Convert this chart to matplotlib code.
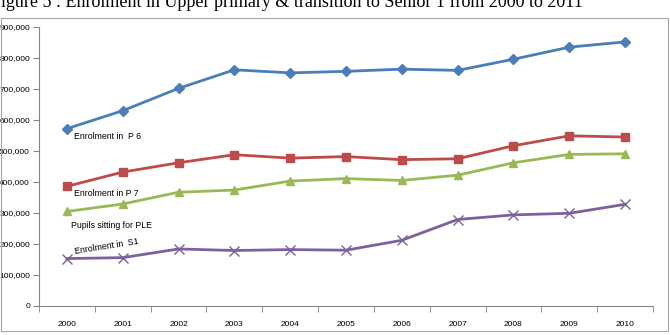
import matplotlib.pyplot as plt
import matplotlib.ticker as mticker
from matplotlib.patches import Rectangle

# data
years = ['2000', '2001', '2002', '2003', '2004', '2005', '2006', '2007', '2008', '2009', '2010']
p6 = [572000, 630000, 702000, 762000, 752000, 757000, 764000, 760000, 796000, 835000, 852000]
p7 = [386000, 432000, 462000, 488000, 477000, 482000, 472000, 475000, 517000, 549000, 545000]
ple = [305000, 329000, 367000, 374000, 403000, 411000, 405000, 422000, 462000, 489000, 491000]
s1 = [153000, 156000, 184000, 179000, 182000, 180000, 212000, 279000, 294000, 299000, 328000]

plt.rcParams['font.family'] = ['Liberation Sans', 'DejaVu Sans']

fig = plt.figure(figsize=(6.7, 3.35), dpi=100)
fig.patch.set_facecolor('white')

# outer chart frame
fig.patches.append(Rectangle((0.5 / 670, 4.5 / 335), 667.5 / 670, 313 / 335, transform=fig.transFigure,
                             fill=False, edgecolor='#a6a6a6', linewidth=0.8))

fig.text(-0.014, 1 - 7 / 335, 'Figure 5 : Enrolment in Upper primary & transition to Senior 1 from 2000 to 2011',
         family='Liberation Serif', fontsize=13, va='baseline', ha='left')

ax = fig.add_axes([39 / 670, 1 - 306 / 335, 614 / 670, 279 / 335])
x = range(len(years))
ax.plot(x, p6, color='#4a7ebb', lw=2, marker='D', ms=5)
ax.plot(x, p7, color='#be4b48', lw=2, marker='s', ms=6)
ax.plot(x, ple, color='#98b954', lw=2, marker='^', ms=6)
ax.plot(x, s1, color='#7d60a0', lw=2, marker='x', ms=7, mew=1)

ax.set_xlim(-0.5, len(years) - 0.5)
ax.set_ylim(0, 900000)
ax.yaxis.set_major_locator(mticker.MultipleLocator(100000))
ax.yaxis.set_major_formatter(mticker.FuncFormatter(lambda v, p: f'{int(v):,}'))
ax.set_xticks(list(x))
ax.set_xticklabels(years)
ax.set_xticks([i - 0.5 for i in range(len(years) + 1)], minor=True)
ax.tick_params(axis='x', which='major', length=0, pad=11, labelsize=6)
ax.tick_params(axis='x', which='minor', length=4, color='#868686')
ax.tick_params(axis='y', length=4, color='#868686', pad=2.5, labelsize=6)

for s in ['top', 'right']:
    ax.spines[s].set_visible(False)
for s in ['left', 'bottom']:
    ax.spines[s].set_color('#868686')
    ax.spines[s].set_linewidth(0.8)

ax.text(0.12, 560000, 'Enrolment in  P 6', fontsize=6.3, va='top')
ax.text(0.12, 378000, 'Enrolment in P 7', fontsize=6.3, va='top')
ax.text(0.08, 275000, 'Pupils sitting for PLE', fontsize=6.3, va='top')
ax.text(0.12, 160000, 'Enrolment in  S1', fontsize=6.3, va='bottom', rotation=9)

fig.savefig('out.png', dpi=100)
